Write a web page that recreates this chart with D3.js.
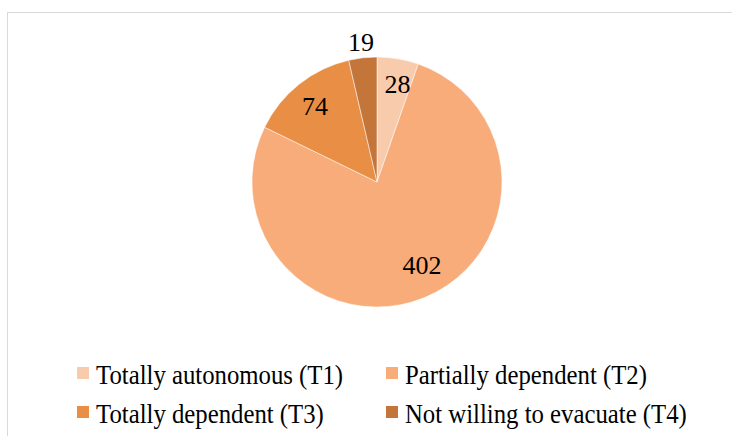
<!DOCTYPE html>
<html><head><meta charset="utf-8">
<script src="https://cdn.jsdelivr.net/npm/d3@7"></script>
<style>body{margin:0;background:#fff}svg{display:block}</style>
</head><body>
<script>
const categories = ["Totally autonomous (T1)", "Partially dependent (T2)", "Totally dependent (T3)", "Not willing to evacuate (T4)"];
const values = [28, 402, 74, 19];
const colors = ["#F8CBAD", "#F7AC7A", "#E88E45", "#C4763A"];

const W = 732, H = 436;
const svg = d3.select("body").append("svg").attr("width", W).attr("height", H);
svg.append("rect").attr("x", 7.5).attr("y", 12.5).attr("width", 740).attr("height", 440)
  .attr("fill", "#fff").attr("stroke", "#d9d9d9").attr("stroke-width", 1);

const cx = 377, cy = 182, r = 125;
const pie = d3.pie().sort(null).value(d => d)(values);
const arc = d3.arc().innerRadius(0).outerRadius(r);
const g = svg.append("g").attr("transform", `translate(${cx},${cy})`);
g.selectAll("path").data(pie).join("path").attr("d", arc)
  .attr("fill", (d, i) => colors[i]).attr("stroke", "#fff").attr("stroke-width", 0.5);

const font = "'Liberation Serif', 'DejaVu Serif', serif";
const labelR = [0.79, 0.755, 0.77, 1.12];
const labelShift = [[4, 0], [9, -4], [-2, 0], [0, 0]];
g.selectAll("text").data(pie).join("text")
  .attr("transform", (d, i) => {
    const a = d3.arc().innerRadius(r * labelR[i]).outerRadius(r * labelR[i]);
    const [x, y] = a.centroid(d);
    return `translate(${x + labelShift[i][0]},${y + labelShift[i][1]})`;
  })
  .attr("text-anchor", "middle").attr("dominant-baseline", "central")
  .attr("font-family", font).attr("font-size", 26).attr("fill", "#000")
  .text(d => d.data);

const legX = [77, 386], legY = [373, 412];
const leg = svg.append("g");
categories.forEach((c, i) => {
  const x = legX[i % 2], y = legY[Math.floor(i / 2)];
  leg.append("rect").attr("x", x).attr("y", y - 6).attr("width", 12).attr("height", 12).attr("fill", colors[i]);
  const t = leg.append("text").attr("x", x + 19).attr("y", y + 1).attr("dominant-baseline", "central")
    .attr("font-family", font).attr("font-size", 27.5).attr("fill", "#000").text(c);
  const len = t.node().getComputedTextLength();
  t.attr("textLength", len * 0.9).attr("lengthAdjust", "spacingAndGlyphs");
});
</script>
</body></html>
